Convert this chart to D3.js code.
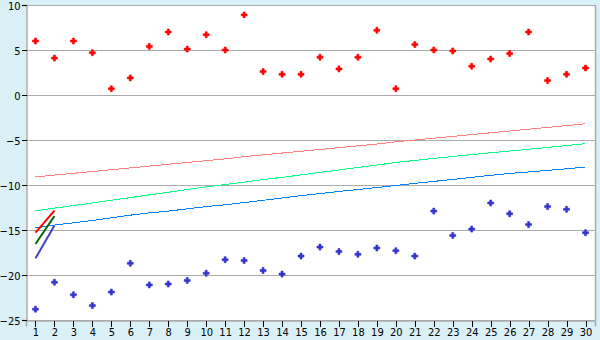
<!DOCTYPE html>
<html>
<head>
<meta charset="utf-8">
<script src="https://cdn.jsdelivr.net/npm/d3@7"></script>
<style>
body { margin: 0; background: #daf0f7; }
svg { display: block; }
.tick text { font-family: 'DejaVu Sans Condensed', 'DejaVu Sans', sans-serif; font-size: 11px; fill: #000; }
</style>
</head>
<body>
<div id="main"></div>
<script>
var xValues = d3.range(1, 31);
var yTicks = [-25, -20, -15, -10, -5, 0, 5, 10];

var redPoints = [6.0, 4.1, 6.0, 4.7, 0.7, 1.9, 5.4, 7.0, 5.1, 6.7,
    5.0, 8.9, 2.6, 2.3, 2.3, 4.2, 2.9, 4.2, 7.2, 0.7,
    5.6, 5.0, 4.9, 3.2, 4.0, 4.6, 7.0, 1.6, 2.3, 3.0];
var bluePoints = [-23.8, -20.8, -22.2, -23.4, -21.9, -18.7, -21.1, -21.0, -20.6, -19.8,
    -18.3, -18.4, -19.5, -19.9, -17.9, -16.9, -17.4, -17.7, -17.0, -17.3,
    -17.9, -12.9, -15.6, -14.9, -12.0, -13.2, -14.4, -12.4, -12.7, -15.3];

var pinkLine = [-9.1, -8.9, -8.7, -8.5, -8.3, -8.1, -7.9, -7.7, -7.5, -7.3,
    -7.1, -6.85, -6.65, -6.45, -6.25, -6.05, -5.85, -5.65, -5.45, -5.2,
    -5.0, -4.8, -4.6, -4.4, -4.2, -4.0, -3.8, -3.6, -3.4, -3.2];
var greenLine = [-12.86, -12.57, -12.28, -12.0, -11.7, -11.4, -11.1, -10.8, -10.5, -10.2,
    -9.95, -9.68, -9.4, -9.15, -8.88, -8.6, -8.33, -8.05, -7.78, -7.5,
    -7.27, -7.05, -6.83, -6.62, -6.42, -6.23, -6.03, -5.83, -5.62, -5.41];
var blueLine = [-14.78, -14.45, -14.2, -13.95, -13.65, -13.35, -13.1, -12.9, -12.65, -12.4,
    -12.2, -11.95, -11.7, -11.45, -11.18, -10.95, -10.72, -10.5, -10.28, -10.05,
    -9.82, -9.6, -9.38, -9.15, -8.92, -8.72, -8.55, -8.38, -8.2, -8.0];

// short segments between x=1 and x=2
var shortX = [1, 2];
var shortRed = [-15.3, -12.85];
var shortGreen = [-16.55, -13.45];
var shortBlue = [-18.15, -14.5];

var width = 600,
    height = 340;

var svg = d3.select('#main')
    .append('svg')
    .attr('width', width)
    .attr('height', height);

var x = d3.scaleLinear()
    .domain([0.5, 30.5])
    .range([26, 595]);
var y = d3.scaleLinear()
    .domain([-25, 10])
    .range([320, 5]);

svg.append('rect')
    .attr('x', x(0.5))
    .attr('y', y(10))
    .attr('width', x(30.5) - x(0.5))
    .attr('height', y(-25) - y(10))
    .attr('fill', '#fff');

// grid
svg.append('g')
    .selectAll('line')
    .data(yTicks)
    .enter()
    .append('line')
    .attr('x1', x(0.5))
    .attr('x2', x(30.5))
    .attr('y1', d => Math.round(y(d)) + 0.5)
    .attr('y2', d => Math.round(y(d)) + 0.5)
    .attr('stroke', '#aaa')
    .attr('stroke-width', 1);

svg.append('line')
    .attr('x1', x(30.5) + 0.5)
    .attr('x2', x(30.5) + 0.5)
    .attr('y1', y(10))
    .attr('y2', y(-25))
    .attr('stroke', '#aaa')
    .attr('stroke-width', 1.5);

var xAxis = svg.append('g')
    .attr('transform', 'translate(0,' + (Math.round(y(-25)) + 0.5) + ')')
    .call(d3.axisBottom(x).tickValues(xValues).tickSize(6).tickPadding(2));
var yAxis = svg.append('g')
    .attr('transform', 'translate(' + (Math.round(x(0.5)) + 0.5) + ',0)')
    .call(d3.axisLeft(y).tickValues(yTicks).tickSize(5).tickPadding(1));
yAxis.selectAll('.tick text')
    .attr('dy', '0.4em');

svg.selectAll('.domain')
    .attr('stroke', '#aaa')
    .attr('stroke-width', 1.5);
svg.selectAll('.tick line')
    .attr('stroke', '#000')
    .attr('shape-rendering', 'crispEdges');

var line = d3.line()
    .x((d, i) => x(xValues[i]))
    .y(d => y(d));

function plotLine(data, color, w){
    svg.append('path')
        .datum(data)
        .attr('d', line)
        .attr('fill', 'none')
        .attr('stroke', color)
        .attr('stroke-width', w)
        .attr('shape-rendering', 'crispEdges');
}
plotLine(pinkLine, '#ff8080', 1);
plotLine(greenLine, '#00ff80', 1);
plotLine(blueLine, '#0080ff', 1);

var shortLine = d3.line()
    .x((d, i) => x(shortX[i]))
    .y(d => y(d));
[[shortRed, '#ff0000'], [shortGreen, '#006600'], [shortBlue, '#4040cc']].forEach(function(s){
    svg.append('path')
        .datum(s[0])
        .attr('d', shortLine)
        .attr('fill', 'none')
        .attr('stroke', s[1])
        .attr('stroke-width', 2);
});

var marker = d3.symbol().type(d3.symbolCross).size(20);
function plotPoints(data, color){
    svg.append('g')
        .selectAll('path')
        .data(data)
        .enter()
        .append('path')
        .attr('d', marker)
        .attr('transform', (d, i) => 'translate(' + x(xValues[i]) + ',' + y(d) + ')')
        .attr('fill', color)
        .attr('stroke', color)
        .attr('stroke-width', 0.6);
}
plotPoints(redPoints, '#ff0000');
plotPoints(bluePoints, '#3333cc');
</script>
</body>
</html>
